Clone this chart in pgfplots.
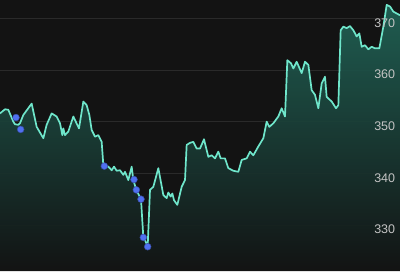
\documentclass[border=0pt]{standalone}
\usepackage{pgfplots}
\pgfplotsset{compat=1.18}
\usepackage{fontspec}
\setmainfont{Liberation Sans}
\definecolor{bg}{HTML}{131313}
\definecolor{gridc}{HTML}{2A2A2A}
\definecolor{linec}{HTML}{6FE6CB}
\definecolor{filltop}{HTML}{206356}
\definecolor{fillmid}{HTML}{172D29}
\definecolor{fillbot}{HTML}{131414}
\definecolor{dotc}{HTML}{5070F0}
\definecolor{labc}{HTML}{C4C4C4}
\pgfplotstableread{
x y
0 351.6
15 352.4
25 352.3
40 350.0
45 349.5
55 349.4
60 349.7
70 351.3
95 353.5
110 349.0
130 346.8
140 349.4
155 351.6
170 351.0
180 349.7
187 347.4
190 348.7
195 347.4
205 348.1
220 351.0
237 348.7
250 353.9
260 353.2
268 351.3
275 348.4
285 347.1
295 347.4
305 346.1
310 341.6
325 341.3
335 340.6
342 341.3
350 340.5
360 340.6
370 339.7
375 340.3
385 338.7
395 341.3
400 338.7
409 336.8
423 335.0
430 327.6
437 326.8
443 325.8
450 336.8
460 337.4
475 341.0
490 335.8
500 335.2
505 336.3
512 335.5
517 336.1
522 334.8
532 333.9
545 337.4
555 338.7
560 345.5
570 345.9
580 346.1
590 344.8
600 344.8
612 346.6
625 343.2
635 343.5
645 342.9
655 344.2
662 342.9
675 342.9
685 341.0
700 340.5
715 340.3
725 342.6
740 342.9
750 344.2
760 343.5
775 345.2
790 346.8
800 350.0
808 349.0
820 349.7
835 351.0
845 352.6
855 351.0
862 361.9
873 361.3
880 360.3
890 361.6
905 359.4
915 361.6
925 361.0
935 356.1
945 355.2
955 352.6
965 357.4
975 358.7
980 354.8
995 353.9
1008 352.6
1015 353.2
1022 367.7
1030 368.4
1040 368.1
1050 368.5
1060 367.7
1070 366.5
1078 367.1
1085 364.5
1095 364.8
1105 364.0
1115 364.5
1125 364.2
1138 364.2
1150 368.4
1160 372.6
1170 372.3
1180 371.3
1200 370.6
}\pricedata
\pgfplotstableread{
x y
48 350.8
62 348.5
313 341.4
402 338.8
409 336.8
423 335.0
430 327.6
443 325.8
}\dotdata
\begin{document}
\begin{tikzpicture}
\begin{axis}[
  width=400pt, height=271pt, scale only axis,
  xmin=0, xmax=1200, ymin=321.1, ymax=373.55,
  axis background/.style={fill=bg},
  axis line style={draw=none},
  major tick length=0pt,
  xtick=\empty,
  ytick={330,340,350,360,370},
  yticklabels={},
  ymajorgrids, grid style={gridc, line width=0.9pt},
  clip=false,
]
\addplot[draw=none, top color=filltop, middle color=fillmid, bottom color=fillbot, fill opacity=0.93] table {\pricedata} \closedcycle;
\addplot[linec, line width=1.7pt, line join=round] table {\pricedata};
\addplot[only marks, mark=*, mark size=3.4pt, mark options={fill=dotc, draw=dotc!70!black, line width=0.5pt}] table {\dotdata};
\foreach \v in {330,340,350,360,370} {
  \edef\tmp{\noexpand\node[anchor=east, text=labc, font=\noexpand\fontsize{12.5}{14}\noexpand\selectfont, inner sep=0pt] at (axis cs:1186,\v-0.85) {\v};}
  \tmp
}
\end{axis}
\pgfresetboundingbox
\useasboundingbox (current axis.south west) rectangle (current axis.north east);
\end{tikzpicture}
\end{document}
